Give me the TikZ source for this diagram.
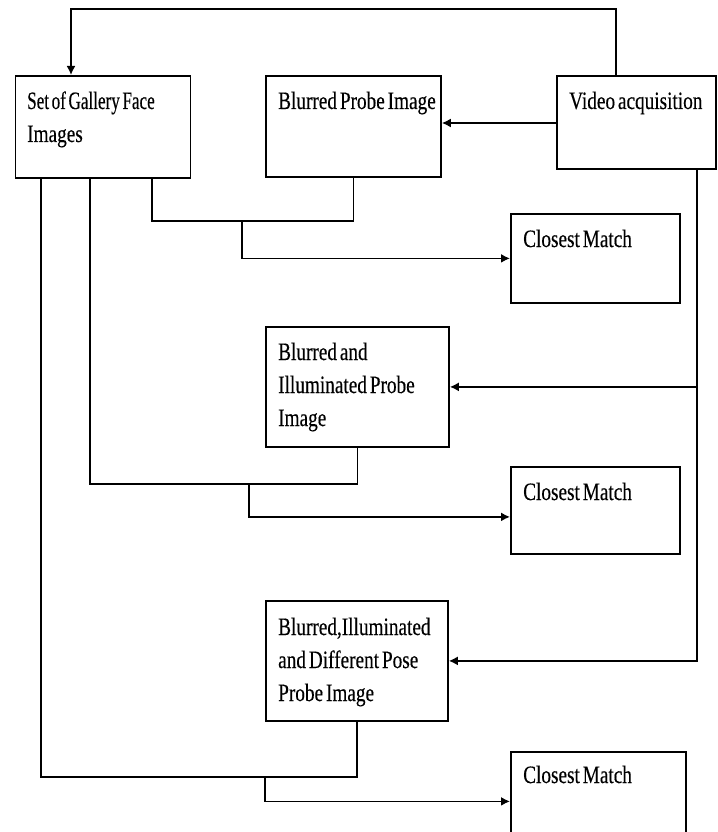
\documentclass[tikz,border=0pt]{standalone}
\usepackage{fontspec}
\usepackage{graphicx}
\newfontfamily\diafont[FakeStretch=0.77,WordSpace=0.6,FakeBold=0.3]{Liberation Serif}
\usetikzlibrary{arrows.meta}
\begin{document}
\begin{tikzpicture}[x=1pt,y=-1pt,
  boxnode/.style={draw,line width=1.8pt,inner sep=0pt,anchor=north west},
  txt/.style={anchor=base west,inner sep=0pt,font=\diafont\fontsize{25}{33}\selectfont},
  conn/.style={line width=1.7pt},
  arr/.style={conn,-{Latex[length=9pt,width=9pt]}}]
\useasboundingbox (0,0) rectangle (717,832);
% boxes
\node[boxnode,minimum width=175pt,minimum height=102pt] (gallery) at (14.5,75) {};
\node[boxnode,minimum width=175pt,minimum height=101pt] (probe1) at (265,75) {};
\node[boxnode,minimum width=159pt,minimum height=93pt] (video) at (556,75) {};
\node[boxnode,minimum width=169pt,minimum height=89pt] (cm1) at (510,213) {};
\node[boxnode,minimum width=183pt,minimum height=120pt] (probe2) at (265,326) {};
\node[boxnode,minimum width=169pt,minimum height=87pt] (cm2) at (510,466) {};
\node[boxnode,minimum width=182pt,minimum height=120pt] (probe3) at (265,600) {};
\node[boxnode,minimum width=175pt,minimum height=81pt] (cm3) at (510,751) {};
% texts
\newcommand\boxlines[1]{\parbox[t]{200pt}{\baselineskip=33pt #1}}
\node[txt] (gallery-t) at ([shift={(12.5,34)}]gallery.north west) {\boxlines{\scalebox{0.89}[1]{Set of Gallery Face}\\Images}};
\node[txt] (probe1-t) at ([shift={(13,34)}]probe1.north west) {\boxlines{Blurred Probe Image}};
\node[txt] (video-t) at ([shift={(13,34)}]video.north west) {\boxlines{Video acquisition}};
\node[txt] (cm1-t) at ([shift={(13,34)}]cm1.north west) {\boxlines{Closest Match}};
\node[txt] (probe2-t) at ([shift={(13,34)}]probe2.north west) {\boxlines{Blurred and\\Illuminated Probe\\Image}};
\node[txt] (cm2-t) at ([shift={(13,34)}]cm2.north west) {\boxlines{Closest Match}};
\node[txt] (probe3-t) at ([shift={(13,35)}]probe3.north west) {\boxlines{Blurred,Illuminated\\and Different Pose\\Probe Image}};
\node[txt] (cm3-t) at ([shift={(13,32)}]cm3.north west) {\boxlines{Closest Match}};
% coordinates
\coordinate (top) at (71,9);
\coordinate (j1) at (242,221);
\coordinate (j2) at (249,484);
\coordinate (j3) at (265,777);
\coordinate (vline) at (697,168);
% connectors
\draw[arr] ([xshift=60pt]video.north west) |- (top) -- (top |- gallery.north);
\draw[arr] (video.west |- 0,123) -- (probe1.east |- 0,123);
\draw[conn] ([xshift=137.5pt]gallery.south west) |- (j1) -| (probe1.south);
\draw[arr] (j1) |- (cm1.west);
\draw[conn] ([xshift=75.5pt]gallery.south west) |- (j2) -| (probe2.south);
\draw[arr] (j2) |- ([yshift=-6.5pt]cm2.west);
\draw[conn] ([xshift=26.5pt]gallery.south west) |- (j3) -| (probe3.south);
\draw[arr] (j3) |- ([yshift=-9pt]cm3.west);
\draw[arr] (vline) |- (probe3.east);
\draw[arr] (vline |- probe2.east) -- (probe2.east);
\end{tikzpicture}
\end{document}
